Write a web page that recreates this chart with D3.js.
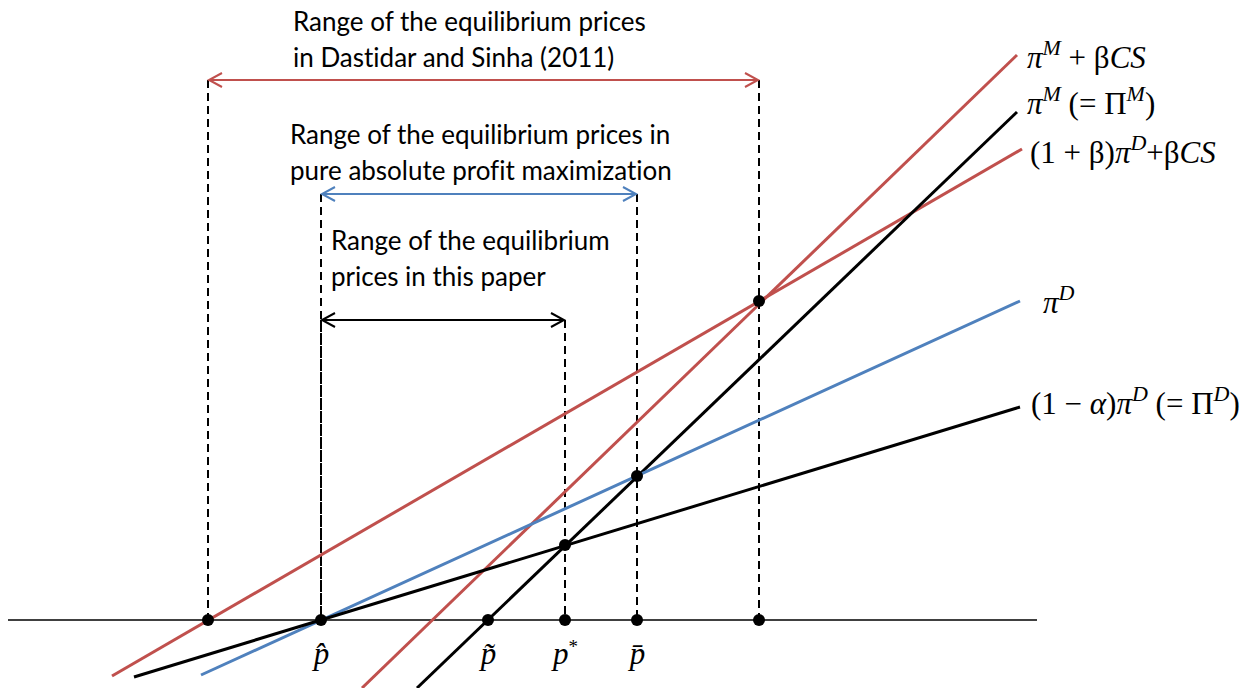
<!DOCTYPE html>
<html>
<head>
<meta charset="utf-8">
<script src="https://cdn.jsdelivr.net/npm/d3@7"></script>
<style>
  body { margin: 0; background: #fff; }
  .note { font-family: Lato, "Open Sans", sans-serif; font-size: 26px; fill: #000; font-variant-ligatures: none; }
  .math { font-family: "Liberation Serif", "DejaVu Serif", serif; font-size: 31px; fill: #000; }
</style>
</head>
<body>
<script>
// prices on the horizontal axis (DS low, p-hat, p-tilde, p*, p-bar, DS high)
var axisPrices = [2.08, 3.21, 4.88, 5.65, 6.37, 7.59];
var tickPrices = [3.21, 4.88, 5.65, 6.37];
var tickLabels = ["p\u0302", "p\u0303", "p*", "p\u0304"];

// the five profit lines, endpoints [price, value]
var lineNames = ["redShallow", "redSteep", "blackSteep", "blue", "blackShallow"];
var lineStart = [[1.12, -0.56], [3.62, -0.68], [4.17, -0.68], [2.01, -0.55], [1.34, -0.57]];
var lineEnd = [[10.22, 4.71], [10.17, 5.65], [10.17, 5.08], [10.20, 3.19], [10.20, 2.13]];

// intersection points
var crossPrices = [7.59, 6.37, 5.65];
var crossValues = [3.19, 1.44, 0.75];

// ranges of equilibrium prices
var rangeFrom = [2.08, 3.21, 3.21];
var rangeTo = [7.59, 6.37, 5.65];
var rangeLevel = [5.40, 4.26, 3.00];

var colors = {
  redShallow: "#c0504d", redSteep: "#c0504d", blackSteep: "#000",
  blue: "#4f81bd", blackShallow: "#000"
};
var rangeColors = ["#c0504d", "#4f81bd", "#000"];

var svgWidth = 1260, svgHeight = 688;

var svg = d3.select("body").append("svg")
  .attr("width", svgWidth)
  .attr("height", svgHeight);

var x = d3.scaleLinear().domain([0, 12.6]).range([0, svgWidth]);
var y = d3.scaleLinear().domain([-0.68, 6.2]).range([svgHeight, 0]);

// horizontal axis
svg.append("line")
  .attr("x1", x(0.08)).attr("x2", x(10.37))
  .attr("y1", y(0)).attr("y2", y(0))
  .attr("stroke", "#000").attr("stroke-width", 1.5);

// dashed verticals
var dashed = [];
rangeFrom.forEach(function(v, i) {
  dashed.push({p: v, top: rangeLevel[i]});
  dashed.push({p: rangeTo[i], top: rangeLevel[i]});
});
svg.selectAll(".dash")
  .data(dashed)
  .enter().append("line")
  .attr("class", "dash")
  .attr("x1", d => x(d.p)).attr("x2", d => x(d.p))
  .attr("y1", d => y(d.top)).attr("y2", y(0))
  .attr("stroke", "#000").attr("stroke-width", 2)
  .attr("stroke-dasharray", "8,5");

// range arrows
rangeFrom.forEach(function(v, i) {
  var x0 = x(v), x1 = x(rangeTo[i]), yy = y(rangeLevel[i]);
  var g = svg.append("g").attr("stroke", rangeColors[i]).attr("fill", "none").attr("stroke-width", 2);
  g.append("line").attr("x1", x0 + 1).attr("x2", x1 - 1).attr("y1", yy).attr("y2", yy);
  g.append("path").attr("d", `M${x0 + 14},${yy - 7}L${x0 + 1},${yy}L${x0 + 14},${yy + 7}`);
  g.append("path").attr("d", `M${x1 - 14},${yy - 7}L${x1 - 1},${yy}L${x1 - 14},${yy + 7}`);
});

// profit lines
svg.selectAll(".profit")
  .data(lineNames)
  .enter().append("line")
  .attr("class", "profit")
  .attr("x1", (d, i) => x(lineStart[i][0])).attr("y1", (d, i) => y(lineStart[i][1]))
  .attr("x2", (d, i) => x(lineEnd[i][0])).attr("y2", (d, i) => y(lineEnd[i][1]))
  .attr("stroke", d => colors[d])
  .attr("stroke-width", 3);

// dots
svg.selectAll(".axdot")
  .data(axisPrices)
  .enter().append("circle")
  .attr("cx", d => x(d)).attr("cy", y(0)).attr("r", 6).attr("fill", "#000");

svg.selectAll(".xdot")
  .data(crossPrices)
  .enter().append("circle")
  .attr("cx", d => x(d)).attr("cy", (d, i) => y(crossValues[i])).attr("r", 6).attr("fill", "#000");

// tick labels under the axis
var bottomAxis = d3.axisBottom(x)
  .tickValues(tickPrices)
  .tickSize(0)
  .tickPadding(22)
  .tickFormat((d, i) => tickLabels[i]);

var axG = svg.append("g")
  .attr("transform", `translate(0, ${y(0)})`)
  .call(bottomAxis);
axG.select(".domain").remove();
axG.attr("font-family", null).attr("font-size", null);
axG.selectAll("text")
  .attr("class", "math")
  .style("font-style", "italic")
  .each(function(d, i) {
    var t = d3.select(this);
    if (tickLabels[i] === "p*") {
      t.text("p");
      t.append("tspan").attr("font-size", "19px").attr("dy", "-11").style("font-style", "normal").text("*");
    }
  });

// text notes
var notes = [
  {lines: ["Range of the equilibrium prices", "in Dastidar and Sinha (2011)"], x: 293, y: 31},
  {lines: ["Range of the equilibrium prices in", "pure absolute profit maximization"], x: 290, y: 144},
  {lines: ["Range of the equilibrium", "prices in this paper"], x: 331, y: 250}
];
notes.forEach(function(n) {
  var t = svg.append("text").attr("class", "note").attr("x", n.x).attr("y", n.y);
  n.lines.forEach(function(l, i) {
    t.append("tspan").attr("x", n.x).attr("dy", i ? 36 : 0).text(l);
  });
});

// line labels: segments [text, italic, superscript]
var labels = [
  {x: 1027, y: 68, parts: [["\u03c0", 1], ["M", 1, 1], [" + \u03b2", 0], ["CS", 1]]},
  {x: 1027, y: 114, parts: [["\u03c0", 1], ["M", 1, 1], [" (= \u03a0", 0], ["M", 1, 1], [")", 0]]},
  {x: 1030, y: 163, parts: [["(1 + \u03b2)", 0], ["\u03c0", 1], ["D", 1, 1], ["+\u03b2", 0], ["CS", 1]]},
  {x: 1043, y: 313, parts: [["\u03c0", 1], ["D", 1, 1]]},
  {x: 1031, y: 414, parts: [["(1 \u2212 ", 0], ["\u03b1", 1], [")", 0], ["\u03c0", 1], ["D", 1, 1], [" (= \u03a0", 0], ["D", 1, 1], [")", 0]]}
];
labels.forEach(function(lb) {
  var t = svg.append("text").attr("class", "math").attr("x", lb.x).attr("y", lb.y)
    .attr("xml:space", "preserve").style("white-space", "pre");
  var up = false;
  lb.parts.forEach(function(p) {
    var s = t.append("tspan").text(p[0]).style("font-style", p[1] ? "italic" : "normal");
    if (p[2] && !up) { s.attr("dy", -13).attr("font-size", "22px"); up = true; }
    else if (p[2]) { s.attr("font-size", "22px"); }
    else if (up) { s.attr("dy", 13); up = false; }
  });
});
</script>
</body>
</html>
